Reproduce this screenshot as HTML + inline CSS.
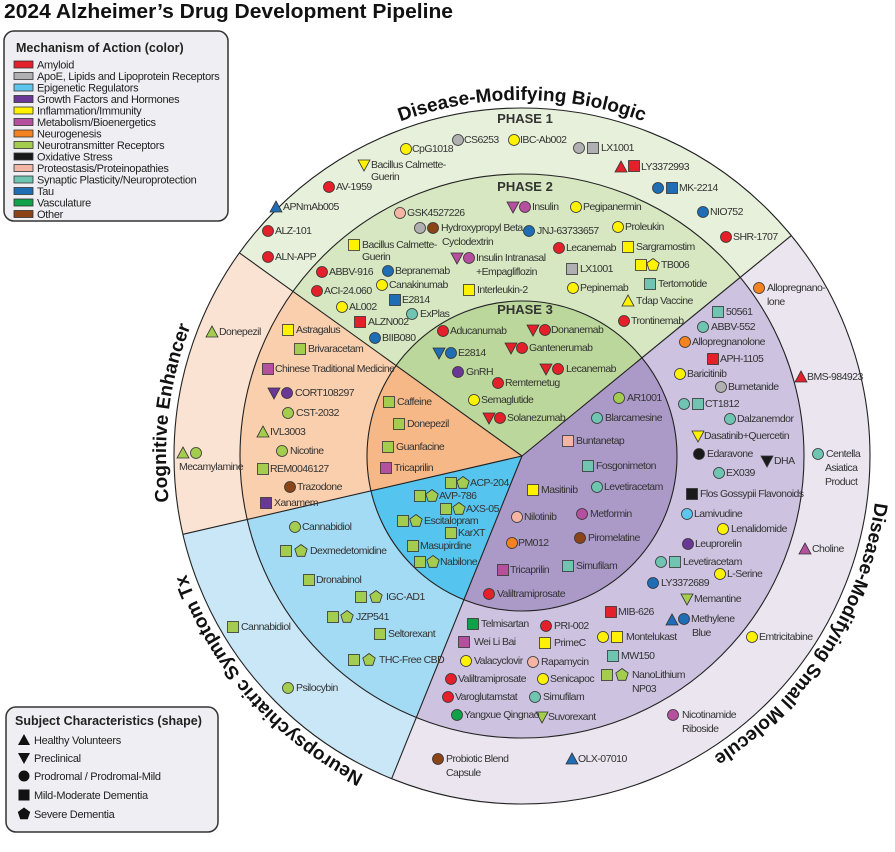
<!DOCTYPE html>
<html><head><meta charset="utf-8"><style>
html,body{margin:0;padding:0;background:#fff;}
svg{display:block;}
.t{font-family:"Liberation Sans",sans-serif;font-size:10.5px;fill:#333;letter-spacing:-0.55px;}
.lg{font-family:"Liberation Sans",sans-serif;font-size:11px;fill:#222;letter-spacing:-0.3px;}
.h{font-family:"Liberation Sans",sans-serif;font-weight:bold;font-size:12.5px;fill:#222;}
.ph{font-family:"Liberation Sans",sans-serif;font-weight:bold;font-size:13px;fill:#333;}
.cv{font-family:"Liberation Sans",sans-serif;font-weight:bold;font-size:19px;fill:#111;}
.m use{stroke:#333;stroke-width:0.8;}
.R{fill:#e4202a}.G{fill:#b0b0b2}.E{fill:#5ec6ee}.P{fill:#6b3797}.Y{fill:#fff200}.M{fill:#b5509f}.O{fill:#f58220}.L{fill:#a4cd4f}.K{fill:#1a1a1a}.S{fill:#f5b5a4}.T{fill:#6fc5b1}.B{fill:#1f6db5}.V{fill:#10a14a}.N{fill:#8a4418}
</style></head><body>
<svg width="895" height="852" viewBox="0 0 895 852" xmlns="http://www.w3.org/2000/svg">
<defs>
<circle id="c" r="5.5"/>
<rect id="s" x="-5.5" y="-5.5" width="11" height="11"/>
<path id="t" d="M0,-6 L6,5 L-6,5Z"/>
<path id="v" d="M-6,-5 L6,-5 L0,6Z"/>
<path id="p" d="M0,-6.5 L6.2,-2 L3.8,5.3 L-3.8,5.3 L-6.2,-2Z"/>
<clipPath id="wb"><path d="M522,456 L197.2,222.6 A400,400 0 0 1 831.5,202.6 Z"/></clipPath>
<clipPath id="ws"><path d="M522,456 L831.5,202.6 A400,400 0 0 1 372.2,826.9 Z"/></clipPath>
<clipPath id="wn"><path d="M522,456 L372.2,826.9 A400,400 0 0 1 132.2,546 Z"/></clipPath>
<clipPath id="wc"><path d="M522,456 L132.2,546 A400,400 0 0 1 197.2,222.6 Z"/></clipPath>
<path id="a1" d="M344,147.7 A356,356 0 0 1 700,147.7"/>
<path id="a2" d="M187.5,577.8 A356,356 0 0 1 226.9,256.9"/>
<path id="a3" d="M371.6,778.6 A356,356 0 0 1 183.4,566"/>
<path id="a4" d="M876.6,487 A356,356 0 0 1 700,764.3"/>
</defs>

<text x="4" y="18" font-family="Liberation Sans,sans-serif" font-weight="bold" font-size="20" fill="#111" textLength="449" lengthAdjust="spacingAndGlyphs">2024 Alzheimer’s Drug Development Pipeline</text>

<g clip-path="url(#wb)"><circle cx="522" cy="456" r="348" fill="#e7f0da"/><circle cx="522" cy="456" r="282" fill="#d6e7c1"/><circle cx="522" cy="456" r="155" fill="#bcd79b"/></g>
<g clip-path="url(#ws)"><circle cx="522" cy="456" r="348" fill="#ebe5f0"/><circle cx="522" cy="456" r="282" fill="#cdc2df"/><circle cx="522" cy="456" r="155" fill="#ab99c8"/></g>
<g clip-path="url(#wn)"><circle cx="522" cy="456" r="348" fill="#c9e7f7"/><circle cx="522" cy="456" r="282" fill="#a4dbf4"/><circle cx="522" cy="456" r="155" fill="#55c5ef"/></g>
<g clip-path="url(#wc)"><circle cx="522" cy="456" r="348" fill="#fbe3d3"/><circle cx="522" cy="456" r="282" fill="#f9cfad"/><circle cx="522" cy="456" r="155" fill="#f6b887"/></g>
<g fill="none" stroke="#222" stroke-width="1.1">
<circle cx="522" cy="456" r="348"/><circle cx="522" cy="456" r="282"/><circle cx="522" cy="456" r="155"/>
<line x1="522" y1="456" x2="239.4" y2="252.9"/><line x1="522" y1="456" x2="791.3" y2="235.6"/>
<line x1="522" y1="456" x2="391.6" y2="778.7"/><line x1="522" y1="456" x2="182.9" y2="534.3"/>
</g>

<text class="cv"><textPath href="#a1" startOffset="50%" text-anchor="middle">Disease-Modifying Biologic</textPath></text>
<text class="cv"><textPath href="#a2" startOffset="50%" text-anchor="middle">Cognitive Enhancer</textPath></text>
<text class="cv"><textPath href="#a3" startOffset="50%" text-anchor="middle">Neuropsychiatric Symptom Tx</textPath></text>
<text class="cv"><textPath href="#a4" startOffset="50%" text-anchor="middle">Disease-Modifying Small Molecule</textPath></text>

<text class="ph" x="525" y="123" text-anchor="middle">PHASE 1</text>
<text class="ph" x="525" y="191" text-anchor="middle">PHASE 2</text>
<text class="ph" x="525" y="314" text-anchor="middle">PHASE 3</text>

<g class="m">
<use href="#c" class="Y" x="406" y="149"/><use href="#c" class="G" x="458" y="140"/><use href="#c" class="Y" x="514" y="140"/>
<use href="#c" class="G" x="579" y="148"/><use href="#s" class="G" x="593" y="148"/>
<use href="#v" class="Y" x="364" y="165"/>
<use href="#t" class="R" x="621" y="167"/><use href="#s" class="R" x="634" y="166"/>
<use href="#c" class="R" x="329" y="187"/>
<use href="#c" class="B" x="658" y="188"/><use href="#s" class="B" x="672" y="188"/>
<use href="#t" class="B" x="276" y="207"/><use href="#c" class="B" x="703" y="212"/>
<use href="#c" class="R" x="268" y="231"/><use href="#c" class="R" x="726" y="237"/>
<use href="#c" class="R" x="268" y="257"/>
<use href="#c" class="S" x="400" y="213"/>
<use href="#v" class="M" x="513" y="207"/><use href="#c" class="M" x="525" y="207"/>
<use href="#c" class="Y" x="576" y="207"/>
<use href="#c" class="G" x="420" y="228"/><use href="#c" class="N" x="433" y="228"/>
<use href="#c" class="B" x="529" y="231"/><use href="#c" class="Y" x="618" y="227"/>
<use href="#s" class="Y" x="354" y="245"/><use href="#c" class="R" x="559" y="248"/><use href="#s" class="Y" x="628" y="247"/>
<use href="#v" class="M" x="457" y="258"/><use href="#c" class="M" x="469" y="258"/>
<use href="#s" class="G" x="572" y="269"/>
<use href="#s" class="Y" x="641" y="265"/><use href="#p" class="Y" x="653" y="265"/>
<use href="#c" class="R" x="322" y="272"/><use href="#c" class="B" x="388" y="271"/>
<use href="#c" class="Y" x="382" y="285"/><use href="#s" class="T" x="650" y="284"/>
<use href="#s" class="Y" x="469" y="290"/><use href="#c" class="Y" x="573" y="288"/>
<use href="#c" class="R" x="317" y="291"/><use href="#t" class="Y" x="628" y="301"/>
<use href="#c" class="Y" x="342" y="307"/><use href="#s" class="B" x="395" y="300"/>
<use href="#c" class="T" x="412" y="314"/><use href="#s" class="R" x="360" y="322"/>
<use href="#c" class="B" x="375" y="338"/><use href="#c" class="R" x="624" y="321"/>
<use href="#c" class="R" x="443" y="331"/>
<use href="#v" class="R" x="533" y="330"/><use href="#c" class="R" x="545" y="330"/>
<use href="#v" class="B" x="439" y="353"/><use href="#c" class="B" x="451" y="353"/>
<use href="#v" class="R" x="511" y="348"/><use href="#c" class="R" x="522" y="348"/>
<use href="#v" class="R" x="546" y="369"/><use href="#c" class="R" x="558" y="369"/>
<use href="#c" class="P" x="458" y="372"/><use href="#c" class="R" x="498" y="383"/>
<use href="#c" class="Y" x="474" y="400"/>
<use href="#v" class="R" x="489" y="418"/><use href="#c" class="R" x="500" y="418"/>
<use href="#t" class="L" x="212" y="332"/>
<use href="#t" class="L" x="183" y="453"/><use href="#c" class="L" x="196" y="453"/>
<use href="#s" class="Y" x="288" y="330"/><use href="#s" class="L" x="300" y="349"/>
<use href="#s" class="M" x="268" y="369"/>
<use href="#v" class="P" x="274" y="393"/><use href="#c" class="P" x="287" y="393"/>
<use href="#c" class="L" x="288" y="413"/><use href="#t" class="L" x="263" y="432"/>
<use href="#c" class="L" x="282" y="451"/><use href="#s" class="L" x="263" y="469"/>
<use href="#c" class="N" x="290" y="487"/><use href="#s" class="P" x="266" y="503"/>
<use href="#s" class="L" x="389" y="402"/><use href="#s" class="L" x="399" y="424"/>
<use href="#s" class="L" x="388" y="447"/><use href="#s" class="M" x="386" y="468"/>
<use href="#s" class="L" x="451" y="483"/><use href="#p" class="L" x="463" y="483"/>
<use href="#s" class="L" x="420" y="496"/><use href="#p" class="L" x="432" y="496"/>
<use href="#s" class="L" x="446" y="509"/><use href="#p" class="L" x="459" y="509"/>
<use href="#s" class="L" x="403" y="521"/><use href="#p" class="L" x="416" y="521"/>
<use href="#s" class="L" x="451" y="533"/><use href="#s" class="L" x="413" y="546"/>
<use href="#s" class="L" x="420" y="562"/><use href="#p" class="L" x="433" y="562"/>
<use href="#c" class="L" x="295" y="527"/>
<use href="#s" class="L" x="286" y="551"/><use href="#p" class="L" x="301" y="551"/>
<use href="#s" class="L" x="309" y="580"/>
<use href="#s" class="L" x="361" y="597"/><use href="#p" class="L" x="376" y="597"/>
<use href="#s" class="L" x="333" y="617"/><use href="#p" class="L" x="347" y="617"/>
<use href="#s" class="L" x="380" y="634"/>
<use href="#s" class="L" x="354" y="660"/><use href="#p" class="L" x="369" y="660"/>
<use href="#s" class="L" x="233" y="627"/><use href="#c" class="L" x="288" y="688"/>
<use href="#c" class="L" x="619" y="398"/><use href="#c" class="T" x="597" y="418"/>
<use href="#s" class="S" x="568" y="441"/><use href="#s" class="T" x="588" y="466"/>
<use href="#c" class="T" x="597" y="487"/><use href="#s" class="Y" x="533" y="490"/>
<use href="#c" class="S" x="517" y="517"/><use href="#c" class="M" x="582" y="514"/>
<use href="#c" class="O" x="512" y="543"/><use href="#c" class="N" x="580" y="538"/>
<use href="#s" class="M" x="503" y="570"/><use href="#s" class="T" x="568" y="566"/>
<use href="#c" class="R" x="489" y="594"/>
<use href="#s" class="T" x="718" y="312"/><use href="#c" class="T" x="703" y="327"/>
<use href="#c" class="O" x="685" y="342"/><use href="#s" class="R" x="713" y="359"/>
<use href="#c" class="Y" x="680" y="374"/><use href="#c" class="G" x="721" y="387"/>
<use href="#c" class="T" x="684" y="404"/><use href="#s" class="T" x="698" y="404"/>
<use href="#c" class="T" x="730" y="419"/><use href="#v" class="Y" x="698" y="436"/>
<use href="#c" class="K" x="699" y="454"/><use href="#c" class="T" x="719" y="473"/>
<use href="#s" class="K" x="692" y="494"/><use href="#c" class="E" x="687" y="514"/>
<use href="#c" class="Y" x="723" y="529"/><use href="#c" class="P" x="688" y="544"/>
<use href="#c" class="T" x="661" y="562"/><use href="#s" class="T" x="675" y="562"/>
<use href="#c" class="Y" x="720" y="574"/><use href="#c" class="B" x="653" y="583"/>
<use href="#v" class="L" x="687" y="599"/>
<use href="#t" class="B" x="672" y="620"/><use href="#c" class="B" x="684" y="619"/>
<use href="#s" class="R" x="611" y="612"/>
<use href="#c" class="Y" x="603" y="637"/><use href="#s" class="Y" x="617" y="637"/>
<use href="#s" class="T" x="613" y="656"/>
<use href="#s" class="L" x="607" y="675"/><use href="#p" class="L" x="622" y="675"/>
<use href="#s" class="V" x="473" y="624"/><use href="#c" class="R" x="546" y="626"/>
<use href="#s" class="M" x="464" y="642"/><use href="#s" class="Y" x="545" y="643"/>
<use href="#c" class="Y" x="466" y="661"/><use href="#c" class="S" x="533" y="662"/>
<use href="#c" class="R" x="451" y="679"/><use href="#c" class="Y" x="543" y="679"/>
<use href="#c" class="R" x="448" y="697"/><use href="#c" class="T" x="535" y="697"/>
<use href="#c" class="V" x="457" y="715"/><use href="#v" class="L" x="542" y="717"/>
<use href="#c" class="O" x="759" y="288"/><use href="#t" class="R" x="801" y="377"/>
<use href="#c" class="T" x="818" y="454"/><use href="#v" class="K" x="767" y="461"/>
<use href="#t" class="M" x="805" y="549"/><use href="#c" class="Y" x="752" y="637"/>
<use href="#c" class="M" x="673" y="715"/><use href="#t" class="B" x="572" y="759"/>
<use href="#c" class="N" x="438" y="759"/>
</g>

<g class="t">
<text x="412" y="152">CpG1018</text><text x="464" y="143">CS6253</text><text x="520" y="143">IBC-Ab002</text>
<text x="601" y="151">LX1001</text>
<text x="371" y="168">Bacillus Calmette-</text><text x="371" y="180">Guerin</text>
<text x="641" y="170">LY3372993</text><text x="336" y="190">AV-1959</text><text x="679" y="191">MK-2214</text>
<text x="283" y="210">APNmAb005</text><text x="710" y="215">NIO752</text>
<text x="275" y="234">ALZ-101</text><text x="733" y="240">SHR-1707</text><text x="275" y="260">ALN-APP</text>
<text x="407" y="216">GSK4527226</text><text x="532" y="210">Insulin</text><text x="583" y="210">Pegipanermin</text>
<text x="441" y="231">Hydroxypropyl Beta</text><text x="442" y="245">Cyclodextrin</text>
<text x="537" y="234">JNJ-63733657</text><text x="625" y="230">Proleukin</text>
<text x="362" y="248">Bacillus Calmette-</text><text x="362" y="260">Guerin</text>
<text x="566" y="251">Lecanemab</text><text x="636" y="250">Sargramostim</text>
<text x="476" y="261">Insulin Intranasal</text><text x="476" y="275">+Empagliflozin</text>
<text x="580" y="272">LX1001</text><text x="661" y="268">TB006</text>
<text x="329" y="275">ABBV-916</text><text x="395" y="274">Bepranemab</text>
<text x="389" y="288">Canakinumab</text><text x="658" y="287">Tertomotide</text>
<text x="477" y="293">Interleukin-2</text><text x="580" y="291">Pepinemab</text>
<text x="324" y="294">ACI-24.060</text><text x="636" y="304">Tdap Vaccine</text>
<text x="349" y="310">AL002</text><text x="402" y="303">E2814</text><text x="420" y="317">ExPlas</text>
<text x="368" y="325">ALZN002</text><text x="382" y="341">BIIB080</text><text x="631" y="324">Trontinemab</text>
<text x="450" y="334">Aducanumab</text><text x="551" y="333">Donanemab</text>
<text x="458" y="356">E2814</text><text x="529" y="351">Gantenerumab</text><text x="566" y="372">Lecanemab</text>
<text x="466" y="375">GnRH</text><text x="505" y="386">Remternetug</text><text x="481" y="403">Semaglutide</text>
<text x="507" y="421">Solanezumab</text>
<text x="219" y="335">Donepezil</text><text x="179" y="470">Mecamylamine</text>
<text x="296" y="333">Astragalus</text><text x="308" y="352">Brivaracetam</text>
<text x="275" y="372">Chinese Traditional Medicine</text><text x="295" y="396">CORT108297</text>
<text x="296" y="416">CST-2032</text><text x="270" y="435">IVL3003</text><text x="290" y="454">Nicotine</text>
<text x="270" y="472">REM0046127</text><text x="297" y="490">Trazodone</text><text x="274" y="506">Xanamem</text>
<text x="397" y="405">Caffeine</text><text x="407" y="427">Donepezil</text><text x="396" y="450">Guanfacine</text>
<text x="394" y="471">Tricaprilin</text>
<text x="470" y="486">ACP-204</text><text x="439" y="499">AVP-786</text><text x="466" y="512">AXS-05</text>
<text x="424" y="524">Escitalopram</text><text x="458" y="536">KarXT</text><text x="420" y="549">Masupirdine</text>
<text x="440" y="565">Nabilone</text>
<text x="302" y="530">Cannabidiol</text><text x="310" y="554">Dexmedetomidine</text><text x="316" y="583">Dronabinol</text>
<text x="386" y="600">IGC-AD1</text><text x="356" y="620">JZP541</text><text x="388" y="637">Seltorexant</text>
<text x="379" y="663">THC-Free CBD</text><text x="241" y="630">Cannabidiol</text><text x="296" y="691">Psilocybin</text>
<text x="627" y="401">AR1001</text><text x="605" y="421">Blarcamesine</text><text x="576" y="444">Buntanetap</text>
<text x="596" y="469">Fosgonimeton</text><text x="604" y="490">Levetiracetam</text><text x="541" y="493">Masitinib</text>
<text x="524" y="520">Nilotinib</text><text x="590" y="517">Metformin</text><text x="518" y="546">PM012</text>
<text x="588" y="541">Piromelatine</text><text x="510" y="573">Tricaprilin</text><text x="576" y="569">Simufilam</text>
<text x="497" y="597">Valiltramiprosate</text>
<text x="726" y="315">50561</text><text x="711" y="330">ABBV-552</text><text x="692" y="345">Allopregnanolone</text>
<text x="720" y="362">APH-1105</text><text x="687" y="377">Baricitinib</text><text x="728" y="390">Bumetanide</text>
<text x="705" y="407">CT1812</text><text x="737" y="422">Dalzanemdor</text><text x="704" y="439">Dasatinib+Quercetin</text>
<text x="707" y="457">Edaravone</text><text x="726" y="476">EX039</text><text x="700" y="497">Flos Gossypii Flavonoids</text>
<text x="694" y="517">Lamivudine</text><text x="731" y="532">Lenalidomide</text><text x="695" y="547">Leuprorelin</text>
<text x="683" y="565">Levetiracetam</text><text x="727" y="577">L-Serine</text><text x="661" y="586">LY3372689</text>
<text x="694" y="602">Memantine</text><text x="691" y="622">Methylene</text><text x="692" y="636">Blue</text>
<text x="618" y="615">MIB-626</text><text x="626" y="640">Montelukast</text><text x="621" y="659">MW150</text>
<text x="632" y="678">NanoLithium</text><text x="632" y="692">NP03</text>
<text x="481" y="627">Telmisartan</text><text x="554" y="629">PRI-002</text><text x="474" y="645">Wei Li Bai</text>
<text x="554" y="646">PrimeC</text><text x="474" y="664">Valacyclovir</text><text x="541" y="665">Rapamycin</text>
<text x="458" y="682">Valiltramiprosate</text><text x="550" y="682">Senicapoc</text>
<text x="455" y="700">Varoglutamstat</text><text x="543" y="700">Simufilam</text>
<text x="464" y="718">Yangxue Qingnao</text><text x="548" y="720">Suvorexant</text>
<text x="767" y="291">Allopregnano-</text><text x="767" y="305">lone</text>
<text x="807" y="380">BMS-984923</text>
<text x="826" y="457">Centella</text><text x="825" y="471">Asiatica</text><text x="825" y="485">Product</text>
<text x="774" y="464">DHA</text><text x="812" y="552">Choline</text><text x="759" y="640">Emtricitabine</text>
<text x="682" y="718">Nicotinamide</text><text x="682" y="732">Riboside</text>
<text x="578" y="762">OLX-07010</text>
<text x="446" y="762">Probiotic Blend</text><text x="446" y="776">Capsule</text>
</g>

<rect x="4" y="31" width="224" height="190" rx="10" fill="#efeef3" stroke="#333" stroke-width="1.5"/>
<text class="h" x="16" y="52">Mechanism of Action (color)</text>
<g stroke="#333" stroke-width="0.8">
<rect x="14" y="61" width="19" height="7" fill="#e4202a"/>
<rect x="14" y="72.5" width="19" height="7" fill="#b0b0b2"/>
<rect x="14" y="84" width="19" height="7" fill="#5ec6ee"/>
<rect x="14" y="95.5" width="19" height="7" fill="#6b3797"/>
<rect x="14" y="107" width="19" height="7" fill="#fff200"/>
<rect x="14" y="118.5" width="19" height="7" fill="#b5509f"/>
<rect x="14" y="130" width="19" height="7" fill="#f58220"/>
<rect x="14" y="141.5" width="19" height="7" fill="#a4cd4f"/>
<rect x="14" y="153" width="19" height="7" fill="#1a1a1a"/>
<rect x="14" y="164.5" width="19" height="7" fill="#f5b5a4"/>
<rect x="14" y="176" width="19" height="7" fill="#6fc5b1"/>
<rect x="14" y="187.5" width="19" height="7" fill="#1f6db5"/>
<rect x="14" y="199" width="19" height="7" fill="#10a14a"/>
<rect x="14" y="210.5" width="19" height="7" fill="#8a4418"/>
</g>
<g class="lg">
<text x="37" y="68.5">Amyloid</text>
<text x="37" y="80">ApoE, Lipids and Lipoprotein Receptors</text>
<text x="37" y="91.5">Epigenetic Regulators</text>
<text x="37" y="103">Growth Factors and Hormones</text>
<text x="37" y="114.5">Inflammation/Immunity</text>
<text x="37" y="126">Metabolism/Bioenergetics</text>
<text x="37" y="137.5">Neurogenesis</text>
<text x="37" y="149">Neurotransmitter Receptors</text>
<text x="37" y="160.5">Oxidative Stress</text>
<text x="37" y="172">Proteostasis/Proteinopathies</text>
<text x="37" y="183.5">Synaptic Plasticity/Neuroprotection</text>
<text x="37" y="195">Tau</text>
<text x="37" y="206.5">Vasculature</text>
<text x="37" y="218">Other</text>
</g>

<rect x="6" y="707" width="212" height="125" rx="10" fill="#efeef3" stroke="#333" stroke-width="1.5"/>
<text class="h" x="15" y="725">Subject Characteristics (shape)</text>
<g fill="#111">
<use href="#t" x="24" y="740"/><use href="#v" x="24" y="758"/><use href="#c" x="24" y="776"/>
<use href="#s" x="24" y="795"/><use href="#p" x="24" y="814"/>
</g>
<g class="lg">
<text x="34" y="744">Healthy Volunteers</text>
<text x="34" y="762">Preclinical</text>
<text x="34" y="780">Prodromal / Prodromal-Mild</text>
<text x="34" y="799">Mild-Moderate Dementia</text>
<text x="34" y="818">Severe Dementia</text>
</g>
</svg>
</body></html>
